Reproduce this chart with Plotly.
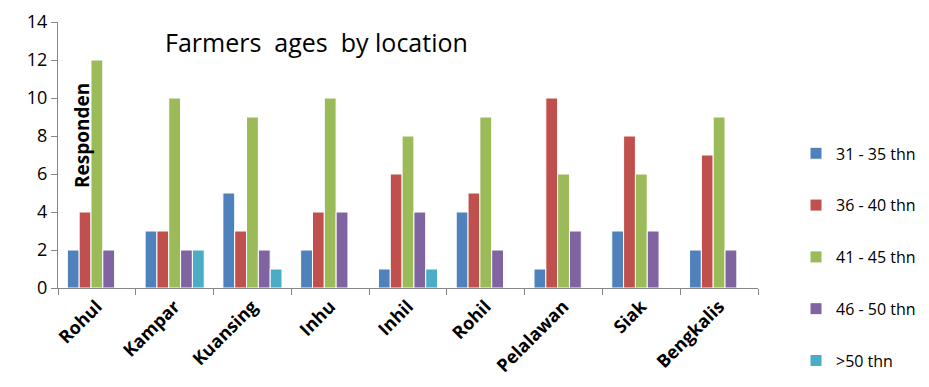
import plotly.graph_objects as go

categories = ["Rohul", "Kampar", "Kuansing", "Inhu", "Inhil", "Rohil", "Pelalawan", "Siak", "Bengkalis"]
series_names = ["31 - 35 thn", "36 - 40 thn", "41 - 45 thn", "46 - 50 thn", ">50 thn"]
s31_35 = [2, 3, 5, 2, 1, 4, 1, 3, 2]
s36_40 = [4, 3, 3, 4, 6, 5, 10, 8, 7]
s41_45 = [12, 10, 9, 10, 8, 9, 6, 6, 9]
s46_50 = [2, 2, 2, 4, 4, 2, 3, 3, 2]
s50_plus = [0, 2, 1, 0, 1, 0, 0, 0, 0]
y_ticks = [0, 2, 4, 6, 8, 10, 12, 14]

colors = ["#4F81BD", "#C0504D", "#9BBB59", "#8064A2", "#4BACC6"]
all_series = [s31_35, s36_40, s41_45, s46_50, s50_plus]

FONT = "Open Sans"

fig = go.Figure()
for i, (name, vals) in enumerate(zip(series_names, all_series)):
    fig.add_trace(go.Bar(
        x=categories, y=vals, name=name,
        marker=dict(color=colors[i], line=dict(color="white", width=1)),
        legendgroup=str(i),
    ))

fig.update_layout(
    width=929, height=387,
    margin=dict(l=58, r=171, t=22, b=99, autoexpand=False),
    paper_bgcolor="white", plot_bgcolor="white",
    barmode="group", bargap=0.24, bargroupgap=0,
    font=dict(family=FONT, color="black"),
    showlegend=True,
    legend=dict(
        x=(796 - 58) / 700, xanchor="left", y=0.57, yanchor="top",
        font=dict(size=16, family=FONT, color="black"),
        tracegroupgap=28, traceorder="grouped",
        itemwidth=30,
    ),
    xaxis=dict(
        showline=True, linecolor="#868686", linewidth=1,
        ticks="outside", tickson="boundaries", ticklen=6, tickcolor="#868686",
        tickangle=-45,
        tickfont=dict(size=18, family=FONT, weight="bold", color="black"),
        showgrid=False,
    ),
    yaxis=dict(
        range=[0, 14], tickvals=y_ticks,
        showline=True, linecolor="#868686", linewidth=1,
        ticks="outside", ticklen=6, tickcolor="#868686",
        tickfont=dict(size=18, family=FONT, color="black"),
        showgrid=False, zeroline=False,
    ),
    annotations=[
        dict(text="Farmers  ages  by location", x=(163 - 58) / 700, xref="paper", xanchor="left",
             y=(288 - 42) / 266, yref="paper", yanchor="middle",
             showarrow=False, font=dict(size=25, family=FONT, color="black")),
        dict(text="<b>Responden</b>", textangle=-90, x=(82 - 58) / 700, xref="paper", xanchor="center",
             y=(288 - 136) / 266, yref="paper", yanchor="middle", showarrow=False,
             font=dict(size=19, family=FONT, color="black")),
    ],
)

fig.write_html("out.html")
